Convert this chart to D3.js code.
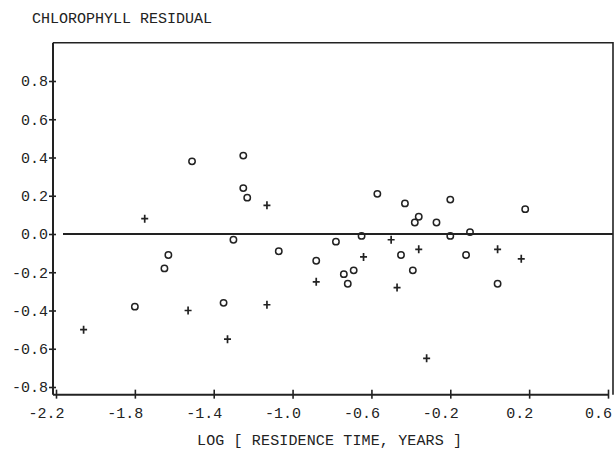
<!DOCTYPE html>
<html><head><meta charset="utf-8">
<script src="https://cdn.jsdelivr.net/npm/d3@7"></script>
<style>
html,body{margin:0;padding:0;background:#fff;}
svg{display:block;}
text{font-family:"Liberation Mono","DejaVu Sans Mono",monospace;fill:#222;}
</style></head>
<body>
<svg id="c" width="616" height="449"></svg>
<script>
const title = "CHLOROPHYLL RESIDUAL";
const xLabel = "LOG [ RESIDENCE TIME, YEARS ]";
const xTicks = [-2.2, -1.8, -1.4, -1.0, -0.6, -0.2, 0.2, 0.6];
const xTickLabels = ["-2.2", "-1.8", "-1.4", "-1.0", "-0.6", "-0.2", "0.2", "0.6"];
const yTicks = [0.8, 0.6, 0.4, 0.2, 0.0, -0.2, -0.4, -0.6, -0.8];
const yTickLabels = ["0.8", "0.6", "0.4", "0.2", "0.0", "-0.2", "-0.4", "-0.6", "-0.8"];

// circles (o)
const circleX = [-1.80, -1.65, -1.63, -1.51, -1.25, -1.25, -1.23, -1.30, -1.35, -1.07,
                 -0.88, -0.78, -0.74, -0.69, -0.72, -0.65, -0.57, -0.43, -0.38, -0.36,
                 -0.27, -0.20, -0.20, -0.10, -0.45, -0.39, -0.12, 0.04, 0.18];
const circleY = [-0.38, -0.18, -0.11, 0.38, 0.41, 0.24, 0.19, -0.03, -0.36, -0.09,
                 -0.14, -0.04, -0.21, -0.19, -0.26, -0.01, 0.21, 0.16, 0.06, 0.09,
                 0.06, 0.18, -0.01, 0.01, -0.11, -0.19, -0.11, -0.26, 0.13];
// crosses (+)
const crossX = [-2.06, -1.75, -1.53, -1.33, -1.13, -1.13, -0.88, -0.64, -0.50, -0.47,
                -0.36, -0.32, 0.04, 0.16];
const crossY = [-0.50, 0.08, -0.40, -0.55, 0.15, -0.37, -0.25, -0.12, -0.03, -0.28,
                -0.08, -0.65, -0.08, -0.13];

const ink = "#222";
const svg = d3.select("#c");
const x = d3.scaleLinear().domain([-2.2, 0.6]).range([56, 608]);
const y = d3.scaleLinear().domain([-0.8, 0.8]).range([387, 81]);
const yTop = y(1.0), yBot = y(-0.84);
const xLeft = 53, xRight = 613;
const font = "Liberation Mono, DejaVu Sans Mono, monospace";

// title
svg.append("text").attr("x", 32).attr("y", 23).attr("font-size", 15).text(title);

// frame: top and right
svg.append("path")
  .attr("d", `M${xLeft},${yTop}H${xRight}V${yBot}`)
  .attr("fill", "none").attr("stroke", ink).attr("stroke-width", 1.6);

// y axis
const gy = svg.append("g").attr("transform", `translate(${xLeft},0)`)
  .call(d3.axisLeft(y).tickValues(yTicks).tickFormat((d, i) => yTickLabels[i]).tickSize(4).tickPadding(1));
gy.select(".domain").remove();
gy.append("line").attr("x1", 0).attr("x2", 0).attr("y1", yTop).attr("y2", yBot)
  .attr("stroke", ink).attr("stroke-width", 2);
gy.selectAll(".tick line").attr("x1", -4).attr("x2", 3).attr("stroke", ink).attr("stroke-width", 1.6);
gy.selectAll(".tick text").attr("font-size", 15).attr("font-family", font).attr("fill", ink);

// x axis
const gx = svg.append("g").attr("transform", `translate(0,${yBot})`)
  .call(d3.axisBottom(x).tickValues(xTicks).tickFormat((d, i) => xTickLabels[i]).tickSize(5).tickPadding(8));
gx.select(".domain").remove();
gx.append("line").attr("x1", xLeft).attr("x2", x(0.6)).attr("y1", 0).attr("y2", 0)
  .attr("stroke", ink).attr("stroke-width", 2);
gx.selectAll(".tick line").attr("y1", -5).attr("y2", 4).attr("stroke", ink).attr("stroke-width", 1.6);
gx.selectAll(".tick text").attr("font-size", 15).attr("font-family", font).attr("fill", ink).attr("dx", -10);

// x label
svg.append("text").attr("x", 197).attr("y", 445).attr("font-size", 15).attr("textLength", 265).text(xLabel);

// zero line
svg.append("line").attr("x1", 63).attr("x2", xRight).attr("y1", y(0)).attr("y2", y(0))
  .attr("stroke", ink).attr("stroke-width", 1.8);

// circles
svg.append("g").selectAll("circle").data(d3.range(circleX.length)).join("circle")
  .attr("cx", i => x(circleX[i])).attr("cy", i => y(circleY[i])).attr("r", 3.2)
  .attr("fill", "none").attr("stroke", ink).attr("stroke-width", 1.5);

// crosses
svg.append("g").selectAll("path").data(d3.range(crossX.length)).join("path")
  .attr("d", i => { const cx = x(crossX[i]), cy = y(crossY[i]); return `M${cx-3.5},${cy}H${cx+3.5}M${cx},${cy-4}V${cy+4}`; })
  .attr("fill", "none").attr("stroke", ink).attr("stroke-width", 1.7);
</script>
</body></html>
